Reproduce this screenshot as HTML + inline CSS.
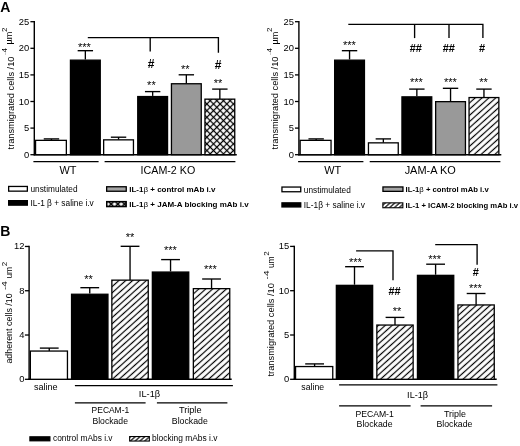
<!DOCTYPE html>
<html lang="en"><head><meta charset="utf-8"><title>Figure</title>
<style>html,body{margin:0;padding:0;background:#fff}svg{display:block;filter:blur(0.3px)}text{font-family:'Liberation Sans', Arial, Helvetica, sans-serif}</style>
</head><body>
<svg width="520" height="446" viewBox="0 0 520 446">
<defs>
<pattern id="hatch" patternUnits="userSpaceOnUse" width="4.6" height="8" patternTransform="rotate(48) translate(1.97,0)"><rect width="4.6" height="8" fill="#fff"/><line x1="2.3" y1="-1" x2="2.3" y2="9" stroke="#000" stroke-width="1.2"/></pattern>
<pattern id="hatchB" patternUnits="userSpaceOnUse" width="4.6" height="8" patternTransform="rotate(48) translate(0.5,0)"><rect width="4.6" height="8" fill="#fff"/><line x1="2.3" y1="-1" x2="2.3" y2="9" stroke="#000" stroke-width="1.2"/></pattern>
<pattern id="hatchL" patternUnits="userSpaceOnUse" width="3.2" height="8" patternTransform="rotate(48) translate(0.6,0)"><rect width="3.2" height="8" fill="#fff"/><line x1="1.6" y1="-1" x2="1.6" y2="9" stroke="#000" stroke-width="1.15"/></pattern>
<pattern id="crossL" patternUnits="userSpaceOnUse" width="4.7" height="4.7" patternTransform="rotate(45) translate(4.38,2.26)"><rect width="4.7" height="4.7" fill="#fff"/><line x1="2.35" y1="-1" x2="2.35" y2="5.7" stroke="#000" stroke-width="1.5"/><line x1="-1" y1="2.35" x2="5.7" y2="2.35" stroke="#000" stroke-width="1.5"/></pattern>
<pattern id="cross" patternUnits="userSpaceOnUse" width="4.7" height="4.7" patternTransform="rotate(45) translate(1.25,0.12)"><rect width="4.7" height="4.7" fill="#fff"/><line x1="2.35" y1="-1" x2="2.35" y2="5.7" stroke="#000" stroke-width="1.25"/><line x1="-1" y1="2.35" x2="5.7" y2="2.35" stroke="#000" stroke-width="1.25"/></pattern>
</defs>
<rect width="520" height="446" fill="#fff"/>
<text x="0.20" y="11.80" font-size="14" text-anchor="start" font-weight="bold">A</text>
<text x="0.30" y="235.90" font-size="14" text-anchor="start" font-weight="bold">B</text>
<line x1="34.30" y1="21.02" x2="34.30" y2="155.38" stroke="#000" stroke-width="1.4"/>
<line x1="30.40" y1="154.70" x2="34.30" y2="154.70" stroke="#000" stroke-width="1.3"/>
<text x="29.20" y="157.70" font-size="9.4" text-anchor="end">0</text>
<line x1="30.40" y1="128.10" x2="34.30" y2="128.10" stroke="#000" stroke-width="1.3"/>
<text x="29.20" y="131.10" font-size="9.4" text-anchor="end">5</text>
<line x1="30.40" y1="101.50" x2="34.30" y2="101.50" stroke="#000" stroke-width="1.3"/>
<text x="29.20" y="104.50" font-size="9.4" text-anchor="end">10</text>
<line x1="30.40" y1="74.90" x2="34.30" y2="74.90" stroke="#000" stroke-width="1.3"/>
<text x="29.20" y="77.90" font-size="9.4" text-anchor="end">15</text>
<line x1="30.40" y1="48.30" x2="34.30" y2="48.30" stroke="#000" stroke-width="1.3"/>
<text x="29.20" y="51.30" font-size="9.4" text-anchor="end">20</text>
<line x1="30.40" y1="21.70" x2="34.30" y2="21.70" stroke="#000" stroke-width="1.3"/>
<text x="29.20" y="24.70" font-size="9.4" text-anchor="end">25</text>
<line x1="33.70" y1="154.70" x2="236.80" y2="154.70" stroke="#000" stroke-width="1.4"/>
<line x1="51.45" y1="140.20" x2="51.45" y2="138.90" stroke="#000" stroke-width="1.35"/>
<line x1="43.75" y1="138.90" x2="59.15" y2="138.90" stroke="#000" stroke-width="1.35"/>
<rect x="35.55" y="140.35" width="30.80" height="14.35" fill="#fff" stroke="#000" stroke-width="1.3"/>
<line x1="85.35" y1="59.50" x2="85.35" y2="50.70" stroke="#000" stroke-width="1.35"/>
<line x1="77.65" y1="50.70" x2="93.05" y2="50.70" stroke="#000" stroke-width="1.35"/>
<rect x="70.45" y="60.15" width="29.80" height="94.55" fill="#000" stroke="#000" stroke-width="1.3"/>
<line x1="118.55" y1="139.70" x2="118.55" y2="137.20" stroke="#000" stroke-width="1.35"/>
<line x1="110.85" y1="137.20" x2="126.25" y2="137.20" stroke="#000" stroke-width="1.35"/>
<rect x="103.65" y="139.85" width="29.80" height="14.85" fill="#fff" stroke="#000" stroke-width="1.3"/>
<line x1="152.65" y1="95.90" x2="152.65" y2="91.60" stroke="#000" stroke-width="1.35"/>
<line x1="144.95" y1="91.60" x2="160.35" y2="91.60" stroke="#000" stroke-width="1.35"/>
<rect x="137.75" y="96.55" width="29.80" height="58.15" fill="#000" stroke="#000" stroke-width="1.3"/>
<line x1="186.35" y1="83.60" x2="186.35" y2="74.80" stroke="#000" stroke-width="1.35"/>
<line x1="178.65" y1="74.80" x2="194.05" y2="74.80" stroke="#000" stroke-width="1.35"/>
<rect x="171.45" y="83.75" width="29.80" height="70.95" fill="#999" stroke="#000" stroke-width="1.3"/>
<line x1="219.85" y1="99.00" x2="219.85" y2="89.10" stroke="#000" stroke-width="1.35"/>
<line x1="212.15" y1="89.10" x2="227.55" y2="89.10" stroke="#000" stroke-width="1.35"/>
<rect x="204.95" y="99.15" width="29.80" height="55.55" fill="url(#cross)" stroke="#000" stroke-width="1.3"/>
<polyline points="87.80,37.60 218.40,37.60 218.40,52.70" fill="none" stroke="#000" stroke-width="1.35"/>
<line x1="150.20" y1="37.60" x2="150.20" y2="51.40" stroke="#000" stroke-width="1.35"/>
<text x="84.30" y="50.60" font-size="11" text-anchor="middle">***</text>
<text x="151.20" y="67.60" font-size="12" text-anchor="middle" font-weight="bold">#</text>
<text x="218.20" y="68.60" font-size="12" text-anchor="middle" font-weight="bold">#</text>
<text x="151.40" y="89.30" font-size="11" text-anchor="middle">**</text>
<text x="185.30" y="72.60" font-size="11" text-anchor="middle">**</text>
<text x="218.00" y="87.20" font-size="11" text-anchor="middle">**</text>
<line x1="33.40" y1="161.60" x2="98.60" y2="161.60" stroke="#000" stroke-width="1.3"/>
<line x1="104.60" y1="161.60" x2="235.40" y2="161.60" stroke="#000" stroke-width="1.3"/>
<text x="68.00" y="173.90" font-size="11" text-anchor="middle" textLength="17.00" lengthAdjust="spacingAndGlyphs">WT</text>
<text x="167.90" y="173.90" font-size="11" text-anchor="middle" textLength="54.70" lengthAdjust="spacingAndGlyphs">ICAM-2 KO</text>
<text x="13.80" y="149.40" font-size="9.3" text-anchor="start" textLength="92.80" lengthAdjust="spacingAndGlyphs" transform="rotate(-90 13.80 149.40)">transmigrated cells /10</text>
<text x="6.80" y="55.20" font-size="8" text-anchor="start" transform="rotate(-90 6.80 55.20)"><tspan fill="#aaa">-</tspan>4</text>
<text x="12.40" y="44.40" font-size="9.5" text-anchor="start" textLength="12.70" lengthAdjust="spacingAndGlyphs" transform="rotate(-90 12.40 44.40)">µm</text>
<text x="6.80" y="32.10" font-size="8" text-anchor="start" transform="rotate(-90 6.80 32.10)">2</text>
<rect x="8.65" y="186.45" width="18.70" height="4.70" fill="#fff" stroke="#000" stroke-width="1.3"/>
<rect x="8.65" y="200.65" width="18.70" height="4.50" fill="#000" stroke="#000" stroke-width="1.3"/>
<rect x="106.65" y="186.75" width="19.60" height="4.50" fill="#a4a4a4" stroke="#000" stroke-width="1.3"/>
<rect x="106.75" y="201.65" width="19.40" height="4.90" fill="url(#crossL)" stroke="#000" stroke-width="1.5"/>
<text x="30.50" y="191.80" font-size="8.2" text-anchor="start" textLength="47.00" lengthAdjust="spacingAndGlyphs">unstimulated</text>
<text x="30.50" y="205.90" font-size="8.2" text-anchor="start" textLength="63.20" lengthAdjust="spacingAndGlyphs">IL-1 β + saline i.v</text>
<text x="129.20" y="191.80" font-size="8" text-anchor="start" font-weight="bold" textLength="86.20" lengthAdjust="spacingAndGlyphs">IL-1<tspan font-weight="normal">β</tspan> + control mAb  i.v</text>
<text x="129.20" y="207.30" font-size="8" text-anchor="start" font-weight="bold" textLength="119.40" lengthAdjust="spacingAndGlyphs">IL-1<tspan font-weight="normal">β</tspan> + JAM-A blocking mAb  i.v</text>
<line x1="298.90" y1="21.02" x2="298.90" y2="155.38" stroke="#000" stroke-width="1.4"/>
<line x1="295.00" y1="154.70" x2="298.90" y2="154.70" stroke="#000" stroke-width="1.3"/>
<text x="293.90" y="157.70" font-size="9.4" text-anchor="end">0</text>
<line x1="295.00" y1="128.10" x2="298.90" y2="128.10" stroke="#000" stroke-width="1.3"/>
<text x="293.90" y="131.10" font-size="9.4" text-anchor="end">5</text>
<line x1="295.00" y1="101.50" x2="298.90" y2="101.50" stroke="#000" stroke-width="1.3"/>
<text x="293.90" y="104.50" font-size="9.4" text-anchor="end">10</text>
<line x1="295.00" y1="74.90" x2="298.90" y2="74.90" stroke="#000" stroke-width="1.3"/>
<text x="293.90" y="77.90" font-size="9.4" text-anchor="end">15</text>
<line x1="295.00" y1="48.30" x2="298.90" y2="48.30" stroke="#000" stroke-width="1.3"/>
<text x="293.90" y="51.30" font-size="9.4" text-anchor="end">20</text>
<line x1="295.00" y1="21.70" x2="298.90" y2="21.70" stroke="#000" stroke-width="1.3"/>
<text x="293.90" y="24.70" font-size="9.4" text-anchor="end">25</text>
<line x1="298.30" y1="154.70" x2="501.30" y2="154.70" stroke="#000" stroke-width="1.4"/>
<line x1="316.15" y1="140.20" x2="316.15" y2="138.90" stroke="#000" stroke-width="1.35"/>
<line x1="308.45" y1="138.90" x2="323.85" y2="138.90" stroke="#000" stroke-width="1.35"/>
<rect x="300.15" y="140.35" width="30.90" height="14.35" fill="#fff" stroke="#000" stroke-width="1.3"/>
<line x1="349.55" y1="59.50" x2="349.55" y2="50.70" stroke="#000" stroke-width="1.35"/>
<line x1="341.85" y1="50.70" x2="357.25" y2="50.70" stroke="#000" stroke-width="1.35"/>
<rect x="334.65" y="60.15" width="29.80" height="94.55" fill="#000" stroke="#000" stroke-width="1.3"/>
<line x1="383.35" y1="142.70" x2="383.35" y2="138.90" stroke="#000" stroke-width="1.35"/>
<line x1="375.65" y1="138.90" x2="391.05" y2="138.90" stroke="#000" stroke-width="1.35"/>
<rect x="368.45" y="142.85" width="29.80" height="11.85" fill="#fff" stroke="#000" stroke-width="1.3"/>
<line x1="416.85" y1="96.20" x2="416.85" y2="89.10" stroke="#000" stroke-width="1.35"/>
<line x1="409.15" y1="89.10" x2="424.55" y2="89.10" stroke="#000" stroke-width="1.35"/>
<rect x="401.95" y="96.85" width="29.80" height="57.85" fill="#000" stroke="#000" stroke-width="1.3"/>
<line x1="450.55" y1="101.50" x2="450.55" y2="88.30" stroke="#000" stroke-width="1.35"/>
<line x1="442.85" y1="88.30" x2="458.25" y2="88.30" stroke="#000" stroke-width="1.35"/>
<rect x="435.65" y="101.65" width="29.80" height="53.05" fill="#999" stroke="#000" stroke-width="1.3"/>
<line x1="483.95" y1="97.40" x2="483.95" y2="89.10" stroke="#000" stroke-width="1.35"/>
<line x1="476.25" y1="89.10" x2="491.65" y2="89.10" stroke="#000" stroke-width="1.35"/>
<rect x="469.05" y="97.55" width="29.80" height="57.15" fill="url(#hatch)" stroke="#000" stroke-width="1.3"/>
<polyline points="348.30,24.30 482.90,24.30 482.90,38.10" fill="none" stroke="#000" stroke-width="1.35"/>
<line x1="414.60" y1="24.30" x2="414.60" y2="38.10" stroke="#000" stroke-width="1.35"/>
<line x1="449.00" y1="24.30" x2="449.00" y2="38.10" stroke="#000" stroke-width="1.35"/>
<text x="349.30" y="49.00" font-size="11" text-anchor="middle">***</text>
<text x="415.80" y="51.70" font-size="11" text-anchor="middle" font-weight="bold">##</text>
<text x="448.80" y="51.70" font-size="11" text-anchor="middle" font-weight="bold">##</text>
<text x="482.00" y="51.70" font-size="11" text-anchor="middle" font-weight="bold">#</text>
<text x="416.40" y="85.90" font-size="11" text-anchor="middle">***</text>
<text x="450.30" y="85.90" font-size="11" text-anchor="middle">***</text>
<text x="483.60" y="85.90" font-size="11" text-anchor="middle">**</text>
<line x1="298.10" y1="161.60" x2="363.40" y2="161.60" stroke="#000" stroke-width="1.3"/>
<line x1="369.70" y1="161.60" x2="500.40" y2="161.60" stroke="#000" stroke-width="1.3"/>
<text x="332.80" y="173.70" font-size="11" text-anchor="middle" textLength="17.00" lengthAdjust="spacingAndGlyphs">WT</text>
<text x="430.20" y="173.70" font-size="11" text-anchor="middle" textLength="51.10" lengthAdjust="spacingAndGlyphs">JAM-A KO</text>
<text x="278.10" y="149.40" font-size="9.3" text-anchor="start" textLength="92.80" lengthAdjust="spacingAndGlyphs" transform="rotate(-90 278.10 149.40)">transmigrated cells /10</text>
<text x="272.20" y="55.20" font-size="8" text-anchor="start" transform="rotate(-90 272.20 55.20)"><tspan fill="#aaa">-</tspan>4</text>
<text x="278.00" y="44.40" font-size="9.5" text-anchor="start" textLength="12.70" lengthAdjust="spacingAndGlyphs" transform="rotate(-90 278.00 44.40)">µm</text>
<text x="272.40" y="32.10" font-size="8" text-anchor="start" transform="rotate(-90 272.40 32.10)">2</text>
<rect x="281.95" y="187.05" width="18.80" height="4.70" fill="#fff" stroke="#000" stroke-width="1.3"/>
<rect x="281.95" y="202.85" width="18.80" height="4.10" fill="#000" stroke="#000" stroke-width="1.3"/>
<rect x="382.95" y="186.95" width="20.00" height="4.40" fill="#a4a4a4" stroke="#000" stroke-width="1.3"/>
<rect x="382.85" y="202.85" width="20.00" height="4.90" fill="url(#hatchL)" stroke="#000" stroke-width="1.1"/>
<text x="303.80" y="192.60" font-size="8.2" text-anchor="start" textLength="47.00" lengthAdjust="spacingAndGlyphs">unstimulated</text>
<text x="303.80" y="208.20" font-size="8.2" text-anchor="start" textLength="61.20" lengthAdjust="spacingAndGlyphs">IL-1β + saline i.v</text>
<text x="405.60" y="192.00" font-size="8" text-anchor="start" font-weight="bold" textLength="83.10" lengthAdjust="spacingAndGlyphs">IL-1<tspan font-weight="normal">β</tspan> + control mAb i.v</text>
<text x="405.60" y="208.00" font-size="8" text-anchor="start" font-weight="bold" textLength="112.50" lengthAdjust="spacingAndGlyphs">IL-1 + ICAM-2 blocking mAb i.v</text>
<line x1="29.10" y1="245.78" x2="29.10" y2="379.98" stroke="#000" stroke-width="1.4"/>
<line x1="24.90" y1="379.30" x2="29.10" y2="379.30" stroke="#000" stroke-width="1.3"/>
<text x="24.40" y="382.30" font-size="9.4" text-anchor="end">0</text>
<line x1="24.90" y1="335.02" x2="29.10" y2="335.02" stroke="#000" stroke-width="1.3"/>
<text x="24.40" y="338.02" font-size="9.4" text-anchor="end">4</text>
<line x1="24.90" y1="290.74" x2="29.10" y2="290.74" stroke="#000" stroke-width="1.3"/>
<text x="24.40" y="293.74" font-size="9.4" text-anchor="end">8</text>
<line x1="24.90" y1="246.46" x2="29.10" y2="246.46" stroke="#000" stroke-width="1.3"/>
<text x="24.40" y="249.46" font-size="9.4" text-anchor="end">12</text>
<line x1="28.50" y1="379.30" x2="231.70" y2="379.30" stroke="#000" stroke-width="1.4"/>
<line x1="49.25" y1="350.90" x2="49.25" y2="348.10" stroke="#000" stroke-width="1.35"/>
<line x1="39.85" y1="348.10" x2="58.65" y2="348.10" stroke="#000" stroke-width="1.35"/>
<rect x="30.35" y="351.05" width="37.10" height="28.25" fill="#fff" stroke="#000" stroke-width="1.3"/>
<line x1="89.75" y1="293.60" x2="89.75" y2="287.70" stroke="#000" stroke-width="1.35"/>
<line x1="80.35" y1="287.70" x2="99.15" y2="287.70" stroke="#000" stroke-width="1.35"/>
<rect x="71.55" y="294.25" width="36.40" height="85.05" fill="#000" stroke="#000" stroke-width="1.3"/>
<line x1="130.05" y1="280.00" x2="130.05" y2="246.30" stroke="#000" stroke-width="1.35"/>
<line x1="120.65" y1="246.30" x2="139.45" y2="246.30" stroke="#000" stroke-width="1.35"/>
<rect x="111.85" y="280.15" width="36.40" height="99.15" fill="url(#hatchB)" stroke="#000" stroke-width="1.3"/>
<line x1="170.55" y1="271.40" x2="170.55" y2="259.60" stroke="#000" stroke-width="1.35"/>
<line x1="161.15" y1="259.60" x2="179.95" y2="259.60" stroke="#000" stroke-width="1.35"/>
<rect x="152.35" y="272.05" width="36.40" height="107.25" fill="#000" stroke="#000" stroke-width="1.3"/>
<line x1="211.55" y1="288.50" x2="211.55" y2="279.00" stroke="#000" stroke-width="1.35"/>
<line x1="202.15" y1="279.00" x2="220.95" y2="279.00" stroke="#000" stroke-width="1.35"/>
<rect x="193.35" y="288.65" width="36.40" height="90.65" fill="url(#hatchB)" stroke="#000" stroke-width="1.3"/>
<text x="88.60" y="282.60" font-size="11" text-anchor="middle">**</text>
<text x="130.10" y="240.70" font-size="11" text-anchor="middle">**</text>
<text x="170.30" y="253.80" font-size="11" text-anchor="middle">***</text>
<text x="210.40" y="273.20" font-size="11" text-anchor="middle">***</text>
<text x="45.80" y="390.40" font-size="9" text-anchor="middle" textLength="23.70" lengthAdjust="spacingAndGlyphs">saline</text>
<line x1="74.90" y1="385.60" x2="232.90" y2="385.60" stroke="#000" stroke-width="1.25"/>
<text x="149.50" y="396.60" font-size="9" text-anchor="middle" textLength="21.30" lengthAdjust="spacingAndGlyphs">IL-1β</text>
<line x1="74.90" y1="402.80" x2="145.60" y2="402.80" stroke="#000" stroke-width="1.2"/>
<line x1="156.90" y1="402.80" x2="227.40" y2="402.80" stroke="#000" stroke-width="1.2"/>
<text x="110.40" y="412.90" font-size="9" text-anchor="middle" textLength="37.60" lengthAdjust="spacingAndGlyphs">PECAM-1</text>
<text x="110.20" y="423.90" font-size="9" text-anchor="middle" textLength="35.50" lengthAdjust="spacingAndGlyphs">Blockade</text>
<text x="190.20" y="412.90" font-size="9" text-anchor="middle" textLength="22.60" lengthAdjust="spacingAndGlyphs">Triple</text>
<text x="189.80" y="423.90" font-size="9" text-anchor="middle" textLength="36.00" lengthAdjust="spacingAndGlyphs">Blockade</text>
<text x="11.90" y="363.60" font-size="9" text-anchor="start" textLength="70.30" lengthAdjust="spacingAndGlyphs" transform="rotate(-90 11.90 363.60)">adherent cells /10</text>
<text x="6.80" y="290.00" font-size="7.5" text-anchor="start" textLength="8.70" lengthAdjust="spacingAndGlyphs" transform="rotate(-90 6.80 290.00)">-4</text>
<text x="11.70" y="278.60" font-size="9" text-anchor="start" textLength="11.80" lengthAdjust="spacingAndGlyphs" transform="rotate(-90 11.70 278.60)">um</text>
<text x="6.80" y="266.20" font-size="8" text-anchor="start" transform="rotate(-90 6.80 266.20)">2</text>
<rect x="29.95" y="436.85" width="19.90" height="3.90" fill="#000" stroke="#000" stroke-width="1.3"/>
<rect x="129.65" y="436.55" width="19.70" height="4.50" fill="url(#hatchL)" stroke="#000" stroke-width="1.1"/>
<text x="53.00" y="441.30" font-size="8.4" text-anchor="start" textLength="59.50" lengthAdjust="spacingAndGlyphs">control mAbs i.v</text>
<text x="152.00" y="441.30" font-size="8.4" text-anchor="start" textLength="65.50" lengthAdjust="spacingAndGlyphs">blocking mAbs i.v</text>
<line x1="294.30" y1="245.73" x2="294.30" y2="379.98" stroke="#000" stroke-width="1.4"/>
<line x1="290.10" y1="379.30" x2="294.30" y2="379.30" stroke="#000" stroke-width="1.3"/>
<text x="289.20" y="382.30" font-size="9.4" text-anchor="end">0</text>
<line x1="290.10" y1="335.00" x2="294.30" y2="335.00" stroke="#000" stroke-width="1.3"/>
<text x="289.20" y="338.00" font-size="9.4" text-anchor="end">5</text>
<line x1="290.10" y1="290.70" x2="294.30" y2="290.70" stroke="#000" stroke-width="1.3"/>
<text x="289.20" y="293.70" font-size="9.4" text-anchor="end">10</text>
<line x1="290.10" y1="246.40" x2="294.30" y2="246.40" stroke="#000" stroke-width="1.3"/>
<text x="289.20" y="249.40" font-size="9.4" text-anchor="end">15</text>
<line x1="293.70" y1="379.30" x2="496.70" y2="379.30" stroke="#000" stroke-width="1.4"/>
<line x1="314.60" y1="366.40" x2="314.60" y2="363.90" stroke="#000" stroke-width="1.35"/>
<line x1="305.20" y1="363.90" x2="324.00" y2="363.90" stroke="#000" stroke-width="1.35"/>
<rect x="295.55" y="366.55" width="37.20" height="12.75" fill="#fff" stroke="#000" stroke-width="1.3"/>
<line x1="354.50" y1="284.70" x2="354.50" y2="266.70" stroke="#000" stroke-width="1.35"/>
<line x1="345.10" y1="266.70" x2="363.90" y2="266.70" stroke="#000" stroke-width="1.35"/>
<rect x="336.35" y="285.35" width="36.30" height="93.95" fill="#000" stroke="#000" stroke-width="1.3"/>
<line x1="395.00" y1="324.90" x2="395.00" y2="317.40" stroke="#000" stroke-width="1.35"/>
<line x1="385.60" y1="317.40" x2="404.40" y2="317.40" stroke="#000" stroke-width="1.35"/>
<rect x="376.85" y="325.05" width="36.30" height="54.25" fill="url(#hatchB)" stroke="#000" stroke-width="1.3"/>
<line x1="435.60" y1="274.70" x2="435.60" y2="264.20" stroke="#000" stroke-width="1.35"/>
<line x1="426.20" y1="264.20" x2="445.00" y2="264.20" stroke="#000" stroke-width="1.35"/>
<rect x="417.45" y="275.35" width="36.30" height="103.95" fill="#000" stroke="#000" stroke-width="1.3"/>
<line x1="476.10" y1="304.80" x2="476.10" y2="293.50" stroke="#000" stroke-width="1.35"/>
<line x1="466.70" y1="293.50" x2="485.50" y2="293.50" stroke="#000" stroke-width="1.35"/>
<rect x="457.95" y="304.95" width="36.30" height="74.35" fill="url(#hatchB)" stroke="#000" stroke-width="1.3"/>
<polyline points="356.10,250.90 393.00,250.90 393.00,280.20" fill="none" stroke="#000" stroke-width="1.35"/>
<polyline points="435.20,244.60 477.10,244.60 477.10,264.70" fill="none" stroke="#000" stroke-width="1.35"/>
<text x="355.40" y="265.60" font-size="11" text-anchor="middle">***</text>
<text x="394.60" y="294.60" font-size="11" text-anchor="middle" font-weight="bold">##</text>
<text x="397.10" y="315.00" font-size="11" text-anchor="middle">**</text>
<text x="434.70" y="263.20" font-size="11" text-anchor="middle">***</text>
<text x="475.90" y="276.40" font-size="11" text-anchor="middle" font-weight="bold">#</text>
<text x="475.40" y="292.10" font-size="11" text-anchor="middle">***</text>
<text x="312.70" y="390.40" font-size="9" text-anchor="middle" textLength="22.80" lengthAdjust="spacingAndGlyphs">saline</text>
<line x1="339.10" y1="384.80" x2="497.40" y2="384.80" stroke="#000" stroke-width="1.3"/>
<text x="417.60" y="397.80" font-size="9" text-anchor="middle" textLength="21.00" lengthAdjust="spacingAndGlyphs">IL-1β</text>
<line x1="339.10" y1="405.80" x2="410.60" y2="405.80" stroke="#000" stroke-width="1.3"/>
<line x1="420.60" y1="405.80" x2="492.10" y2="405.80" stroke="#000" stroke-width="1.3"/>
<text x="374.60" y="416.60" font-size="9" text-anchor="middle" textLength="38.40" lengthAdjust="spacingAndGlyphs">PECAM-1</text>
<text x="374.60" y="426.80" font-size="9" text-anchor="middle" textLength="36.00" lengthAdjust="spacingAndGlyphs">Blockade</text>
<text x="455.00" y="416.60" font-size="9" text-anchor="middle" textLength="22.00" lengthAdjust="spacingAndGlyphs">Triple</text>
<text x="454.40" y="426.80" font-size="9" text-anchor="middle" textLength="36.00" lengthAdjust="spacingAndGlyphs">Blockade</text>
<text x="274.40" y="376.50" font-size="9.3" text-anchor="start" textLength="93.40" lengthAdjust="spacingAndGlyphs" transform="rotate(-90 274.40 376.50)">transmigrated cells /10</text>
<text x="268.90" y="279.40" font-size="7.5" text-anchor="start" textLength="8.80" lengthAdjust="spacingAndGlyphs" transform="rotate(-90 268.90 279.40)">-4</text>
<text x="274.40" y="268.10" font-size="9" text-anchor="start" textLength="11.80" lengthAdjust="spacingAndGlyphs" transform="rotate(-90 274.40 268.10)">um</text>
<text x="268.90" y="255.70" font-size="8" text-anchor="start" transform="rotate(-90 268.90 255.70)">2</text>
</svg>
</body></html>
